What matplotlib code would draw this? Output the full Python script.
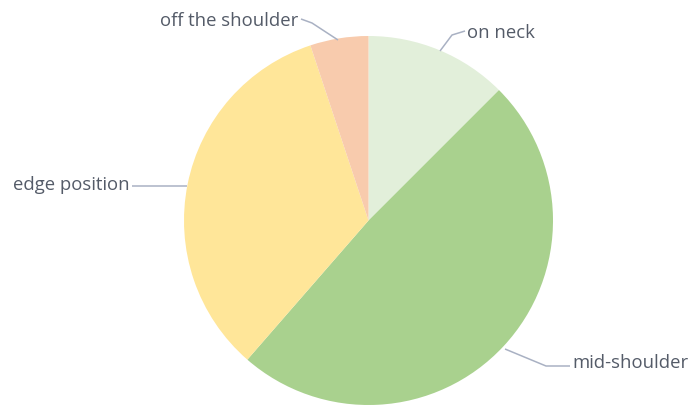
import matplotlib.pyplot as plt

labels = ["on neck", "mid-shoulder", "edge position", "off the shoulder"]
values = [12.5, 48.9, 33.5, 5.1]
colors = ["#e2efda", "#a9d18e", "#ffe699", "#f8cbad"]

W, H = 689, 406
fig = plt.figure(figsize=(W / 100, H / 100), dpi=100)
ax = fig.add_axes([0, 0, 1, 1])

cx, cy, r = 368.5, H - 221.5, 184.5
ax.pie(values, colors=colors, startangle=90, counterclock=False,
       center=(cx, cy), radius=r, frame=True,
       wedgeprops=dict(linewidth=0))
ax.set_xlim(0, W)
ax.set_ylim(0, H)
ax.set_aspect("equal")
ax.axis("off")

txt = "#545b68"
line = "#a9b1c3"
fs = 13.3

# label positions in pixel coords (y from top) and leader lines
label_pos = {
    "on neck": (467, 33, "left"),
    "mid-shoulder": (572, 363, "left"),
    "edge position": (130, 185, "right"),
    "off the shoulder": (298, 21, "right"),
}
leaders = {
    "on neck": [(465, 32), (452, 36), (440, 52)],
    "mid-shoulder": [(570, 367), (546, 367), (505, 350)],
    "edge position": [(132, 187), (187, 187)],
    "off the shoulder": [(301, 20), (312, 24), (338, 41)],
}

for lab in labels:
    x, y, ha = label_pos[lab]
    ax.text(x, H - y, lab, ha=ha, va="center", fontsize=fs,
            color=txt, family=["Open Sans", "DejaVu Sans"])
    pts = leaders[lab]
    ax.plot([p[0] for p in pts], [H - p[1] for p in pts],
            color=line, linewidth=1.1, solid_capstyle="butt")

fig.savefig("out.png", dpi=100)
